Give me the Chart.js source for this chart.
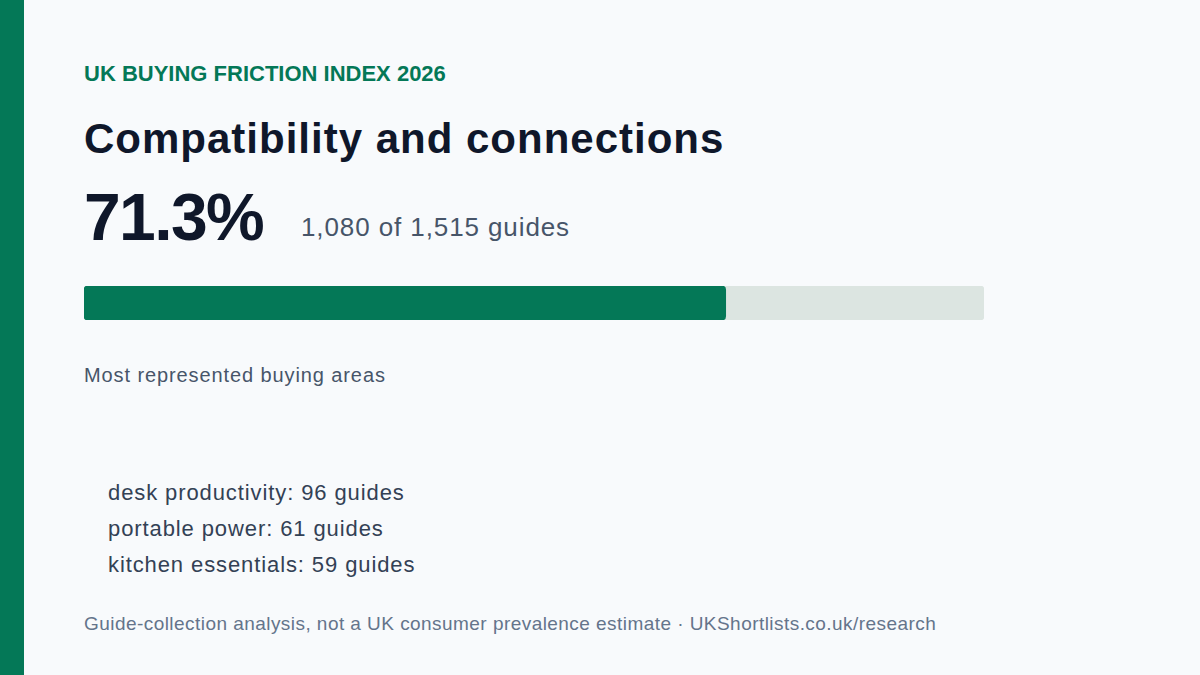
<!DOCTYPE html>
<html>
<head>
<meta charset="utf-8">
<script src="https://cdn.jsdelivr.net/npm/chart.js@4.4.1/dist/chart.umd.min.js"></script>
<style>
  html, body { margin: 0; padding: 0; }
  body {
    width: 1200px; height: 675px; position: relative; overflow: hidden;
    background: #f8fafc; font-family: "Liberation Sans", Arial, sans-serif;
  }
  .stripe { position: absolute; left: 0; top: 0; width: 24px; height: 675px; background: #047857; }
  .t { position: absolute; left: 84px; line-height: 1; white-space: nowrap; margin: 0; }
  #eyebrow { top: 63px; font-size: 22px; font-weight: bold; color: #047857; }
  #title { top: 118px; font-size: 42px; font-weight: bold; color: #0f172a; letter-spacing: 1px; }
  #big { top: 184px; font-size: 66px; font-weight: bold; color: #0f172a; letter-spacing: -1.6px; }
  #sub { left: 301px; top: 214px; font-size: 26px; color: #475569; letter-spacing: 0.9px; }
  #areasHead { top: 365px; font-size: 20px; color: #475569; letter-spacing: 0.9px; }
  #areas { left: 108px; top: 482px; font-size: 22px; color: #334155; letter-spacing: 0.9px; }
  #areas div { height: 36px; line-height: 1; }
  #footer { top: 614px; font-size: 19px; color: #64748b; letter-spacing: 0.45px; }
  #barWrap { position: absolute; left: 84px; top: 286px; width: 900px; height: 34px; }
</style>
</head>
<body>
<div class="stripe"></div>
<p class="t" id="eyebrow">UK BUYING FRICTION INDEX 2026</p>
<p class="t" id="title">Compatibility and connections</p>
<p class="t" id="big"></p>
<p class="t" id="sub"></p>
<div id="barWrap"><canvas id="shareBar"></canvas></div>
<p class="t" id="areasHead">Most represented buying areas</p>
<div class="t" id="areas"></div>
<p class="t" id="footer">Guide-collection analysis, not a UK consumer prevalence estimate · UKShortlists.co.uk/research</p>

<script>
// data
const matched = 1080
const total = 1515
const sharePct = 71.3
const areaNames = ['desk productivity', 'portable power', 'kitchen essentials']
const areaCounts = [96, 61, 59]

document.getElementById('big').textContent = sharePct.toFixed(1) + '%'
document.getElementById('sub').textContent =
  matched.toLocaleString('en-GB') + ' of ' + total.toLocaleString('en-GB') + ' guides'

const areasBox = document.getElementById('areas')
areaNames.forEach((name, i) => {
  const row = document.createElement('div')
  row.textContent = name + ': ' + areaCounts[i] + ' guides'
  areasBox.appendChild(row)
})

// bar: track (100) behind the fill (share)
const barData = {
  labels: ['share'],
  datasets: [
    {
      label: 'share',
      data: [sharePct],
      backgroundColor: '#047857',
      borderRadius: 4,
      borderSkipped: false,
      grouped: false,
      order: 0,
      categoryPercentage: 1,
      barPercentage: 1
    },
    {
      label: 'track',
      data: [100],
      backgroundColor: '#dce5e1',
      borderRadius: 4,
      borderSkipped: false,
      grouped: false,
      order: 1,
      categoryPercentage: 1,
      barPercentage: 1
    }
  ]
}

const shareChart = new Chart(document.getElementById('shareBar'), {
  type: 'bar',
  data: barData,
  options: {
    indexAxis: 'y',
    responsive: true,
    maintainAspectRatio: false,
    animation: false,
    layout: { padding: 0 },
    plugins: { legend: { display: false }, tooltip: { enabled: false } },
    scales: {
      x: { min: 0, max: 100, display: false },
      y: { display: false }
    }
  }
})
</script>
</body>
</html>
